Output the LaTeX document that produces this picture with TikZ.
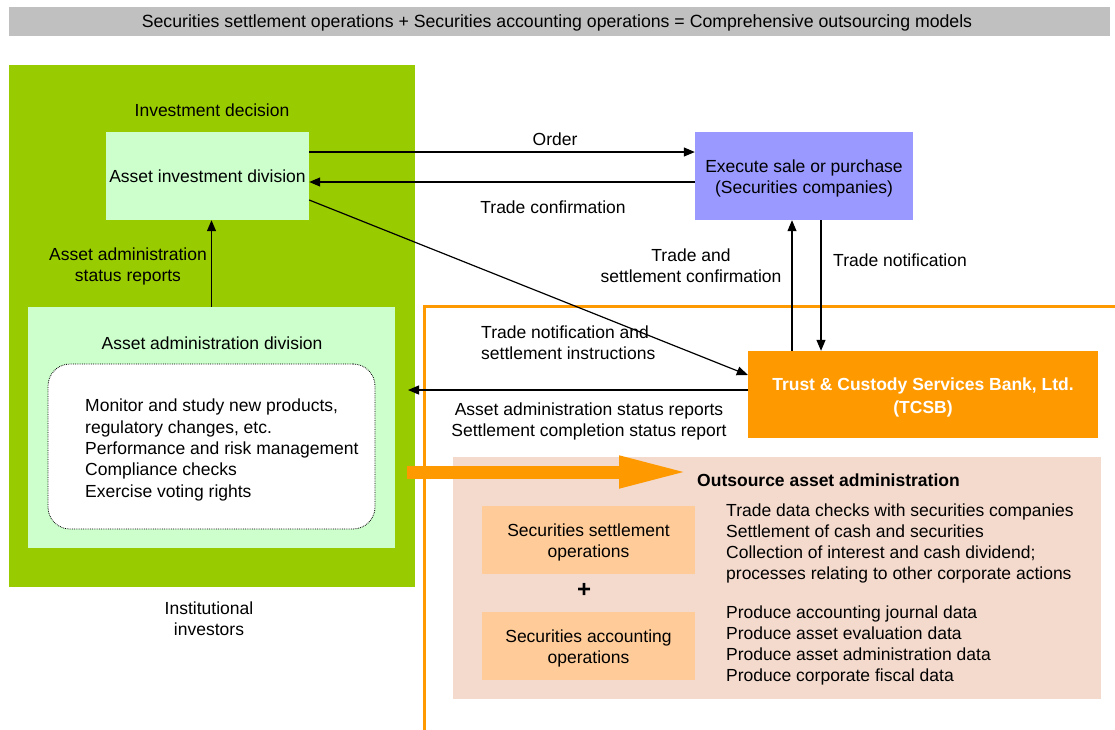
\documentclass[tikz,border=0pt]{standalone}
\usepackage{fontspec}
\setmainfont{Liberation Sans}
\usetikzlibrary{arrows.meta}
\definecolor{bargray}{HTML}{C0C0C0}
\definecolor{investgreen}{HTML}{99CC00}
\definecolor{palegreen}{HTML}{CCFFCC}
\definecolor{brokerblue}{HTML}{9999FF}
\definecolor{tcsborange}{HTML}{FF9900}
\definecolor{outpink}{HTML}{F4DACD}
\definecolor{opstan}{HTML}{FFCC99}
\begin{document}
\begin{tikzpicture}[x=1pt,y=-1pt,
				every node/.style={font=\fontsize{17.5}{21}\selectfont},
				panel/.style={inner sep=0pt},
				box/.style={inner sep=0pt,align=center},
				lab/.style={inner sep=0pt,align=center},
				labl/.style={inner sep=0pt,align=left,anchor=west},
				flow/.style={line width=1.2pt,-{Triangle[length=11pt,width=9pt]}},
				bigflow/.style={draw=tcsborange,line width=13pt,-{Triangle[length=71pt,width=29pt]}}]
				\useasboundingbox (0,0) rectangle (1115,729);
				\node [panel,fill=bargray,minimum width=1101,minimum height=29] (title) at (559.5,21.5) {};
					\node [lab,font=\fontsize{17.7}{21}\selectfont] (titlelab) at (557,22.5)
					{Securities settlement operations + Securities accounting operations = Comprehensive outsourcing models};
				\node [panel,fill=investgreen,minimum width=406,minimum height=522] (investors) at (212,326) {};
					\node [lab] at (212,110)	{Investment decision};
					\node [lab] (investlab) at (209,619)	{Institutional\\investors};
				\node [box,fill=palegreen,minimum width=203,minimum height=88] (invest) at (207.5,176) {Asset investment division};
				\node [panel,fill=palegreen,minimum width=367,minimum height=241] (admin) at (211.5,427.5) {};
					\node [lab] (adminlab) at (212,343)	{Asset administration division};
				\node [panel,fill=white,draw,densely dotted,line width=0.8pt,rounded corners=22,minimum width=327,minimum height=165] (tasks) at (211.5,446.5) {};
					\node [labl,font=\fontsize{17.5}{21.3}\selectfont] (tasklist) at (85,450)	{Monitor and study new products,\\regulatory changes, etc.\\Performance and risk management\\Compliance checks\\Exercise voting rights};
				\node [panel,fill=brokerblue,minimum width=218,minimum height=88] (execute) at (804,176) {};
					\node [lab] (executelab) at (804,178)	{Execute sale or purchase\\(Securities companies)};
				\draw [tcsborange,line width=3pt] (1116,306) -- (424,306) -- (424,730);
				\node [panel,fill=tcsborange,minimum width=350,minimum height=87] (tcsb) at (923,394.5) {};
					\node [lab,text=white,font=\fontsize{17.5}{23}\selectfont\bfseries] (tcsblab) at (923,397.5)
					{Trust \& Custody Services Bank, Ltd.\\(TCSB)};
				\node [panel,fill=outpink,minimum width=648,minimum height=242] (outsource) at (777,578) {};
					\node [labl,font=\fontsize{17.5}{21}\selectfont\bfseries] (outlab) at (697,480)	{Outsource asset administration};
				\node [panel,fill=opstan,minimum width=213,minimum height=68] (settle) at (588.5,540) {};
					\node [lab] (settlelab) at (588.5,542)	{Securities settlement\\operations};
				\node [panel,fill=opstan,minimum width=213,minimum height=68] (account) at (588.5,646) {};
					\node [lab] (accountlab) at (588.5,648)	{Securities accounting\\operations};
					\node [lab,font=\fontsize{24}{24}\selectfont\bfseries] (plus) at (584,590)	{+};
					\node [labl,font=\fontsize{17.5}{21.3}\selectfont] (settlelist) at (726,543.5)	{Trade data checks with securities companies\\Settlement of cash and securities\\Collection of interest and cash dividend;\\processes relating to other corporate actions};
					\node [labl,font=\fontsize{17.5}{21}\selectfont] (accountlist) at (726,645)	{Produce accounting journal data\\Produce asset evaluation data\\Produce asset administration data\\Produce corporate fiscal data};
				\coordinate (reportend) at (408,390);
				\coordinate (bigstart) at (407,472);
				\coordinate (bigend) at (690,472);
				\draw [bigflow] (bigstart) -- (bigend);
				\draw [flow] ([yshift=24]invest.east) -- ([yshift=24]execute.west);
					\node [lab] (orderlab) at (555,139)	{Order};
				\draw [flow] ([yshift=-6]execute.west) -- ([yshift=-6]invest.east);
					\node [lab] (conflab) at (553,207)	{Trade confirmation};
				\draw [flow] ([yshift=-24]invest.east) -- ([yshift=19.5]tcsb.west);
					\node [labl] (instrlab) at (481,343)	{Trade notification and\\settlement instructions};
				\draw [flow] ([yshift=4.5]tcsb.west) -- (reportend);
					\node [lab] (reportlab) at (589,421)	{Asset administration status reports\\Settlement completion status report};
				\draw [flow] (admin.north) -- (admin.north |- invest.south);
					\node [lab] (statuslab) at (128,266)	{Asset administration\\status reports};
				\draw [flow] ([xshift=-131]tcsb.north) -- ([xshift=-131]tcsb.north |- execute.south);
					\node [lab] (settlconflab) at (691,265.5)	{Trade and\\settlement confirmation};
				\draw [flow] ([xshift=17]execute.south) -- ([xshift=17]execute.south |- tcsb.north);
					\node [labl] (notiflab) at (833,260)	{Trade notification};
			\end{tikzpicture}
\end{document}
